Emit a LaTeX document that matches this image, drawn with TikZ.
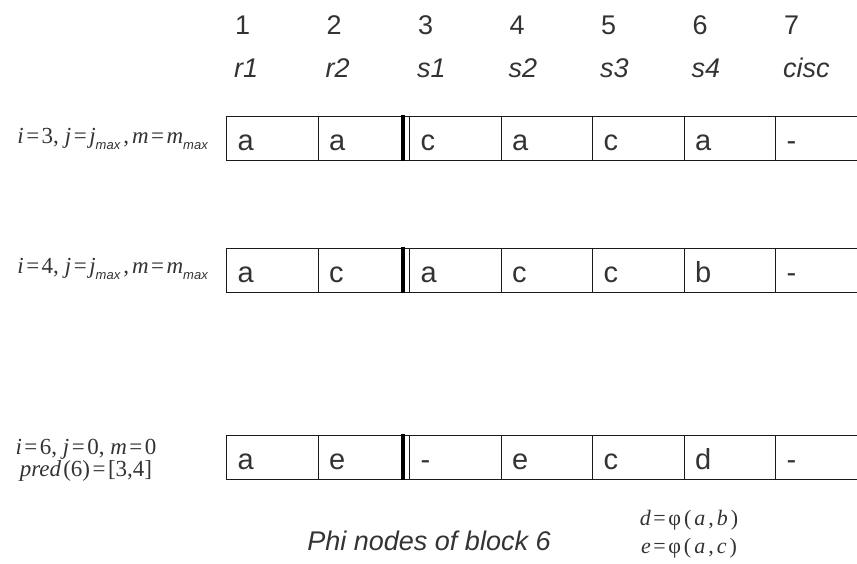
\documentclass[tikz,border=0pt]{standalone}
\usepackage{fontspec}
\setmainfont{Liberation Sans}
\newfontfamily\lser{Liberation Serif}
\newfontfamily\lsans{Liberation Sans}
\usetikzlibrary{calc}
\definecolor{textgray}{HTML}{333333}
\definecolor{linegray}{HTML}{1A1A1A}
% formula helpers: italic variable, spaced relation, lowered subscript
\newcommand\var[1]{\textit{#1}}
\newcommand\eqsign{\kern2.5pt=\kern2.5pt}
\newcommand\lowsub[1]{\raisebox{-0.6ex}{\lsans\fontsize{13}{13}\selectfont\itshape #1}}
\newcommand\gap{\kern2pt}
\newcommand\wgap{\kern3pt}
\begin{document}
\begin{tikzpicture}[x=1pt,y=-1pt,
  cell/.style={draw=linegray, line width=1pt, inner xsep=11pt, inner ysep=0pt,
    text width=69.5pt, text height=33.5pt, text depth=10.5pt, align=left,
    anchor=north west, font=\fontsize{29}{29}\selectfont, text=textgray},
  hdr/.style={anchor=base west, inner sep=0pt, font=\fontsize{27}{27}\selectfont, text=textgray},
  lab/.style={inner sep=0pt, font=\lser\fontsize{23}{20}\selectfont, text=textgray},
  sep/.style={line width=4pt, draw=black}]
\useasboundingbox (0,0) rectangle (857,563);

% column headers
\foreach \n/\t [count=\k from 0] in {1/r1,2/r2,3/s1,4/s2,5/s3,6/s4,7/cisc}{
  \node[hdr] (num\n) at ({235+91.5*\k},34) {\n};
  \node[hdr] (reg\n) at ({234+91.5*\k},77) {\itshape\t};
}

% three register rows
\foreach \r/\top/\vals in {1/116/{a,a,c,a,c,a,-},2/248/{a,c,a,c,c,b,-},3/435/{a,e,-,e,c,d,-}}{
  \foreach \v [count=\k from 0] in \vals {
    \node[cell] (r\r c\k) at ({226+91.5*\k},\top) {\v};
  }
  \draw[sep] ($(r\r c1.north east)+(-7,-1)$) -- ($(r\r c1.south east)+(-7,0)$);
}

% row annotations
\node[lab, anchor=base east] (l1) at (208,143)
  {\var{i}\eqsign 3,\kern6pt\var{j}\eqsign\var{j}\lowsub{max}\wgap,\kern3pt\var{m}\eqsign\var{m}\lowsub{max}};
\node[lab, anchor=base east] (l2) at (208,273)
  {\var{i}\eqsign 4,\kern6pt\var{j}\eqsign\var{j}\lowsub{max}\wgap,\kern3pt\var{m}\eqsign\var{m}\lowsub{max}};
\node[lab, anchor=base, align=center] (l3) at (86,476)
  {\var{i}\eqsign 6, \var{j}\eqsign 0, \var{m}\eqsign 0\\
   \var{pred}\gap(6)\eqsign[3,4]};

% caption and phi definitions
\node[anchor=base, inner sep=0pt, font=\fontsize{27}{27}\selectfont\itshape, text=textgray] (cap) at (429,550) {Phi nodes of block 6};
\node[lab, anchor=base, align=center, font=\lser\fontsize{22}{28}\selectfont] (phi) at (689,553)
  {\var{d}\eqsign φ\wgap(\wgap\var{a}\wgap,\wgap\var{b}\wgap)\\
   \var{e}\eqsign φ\wgap(\wgap\var{a}\wgap,\wgap\var{c}\wgap)};
\end{tikzpicture}
\end{document}
